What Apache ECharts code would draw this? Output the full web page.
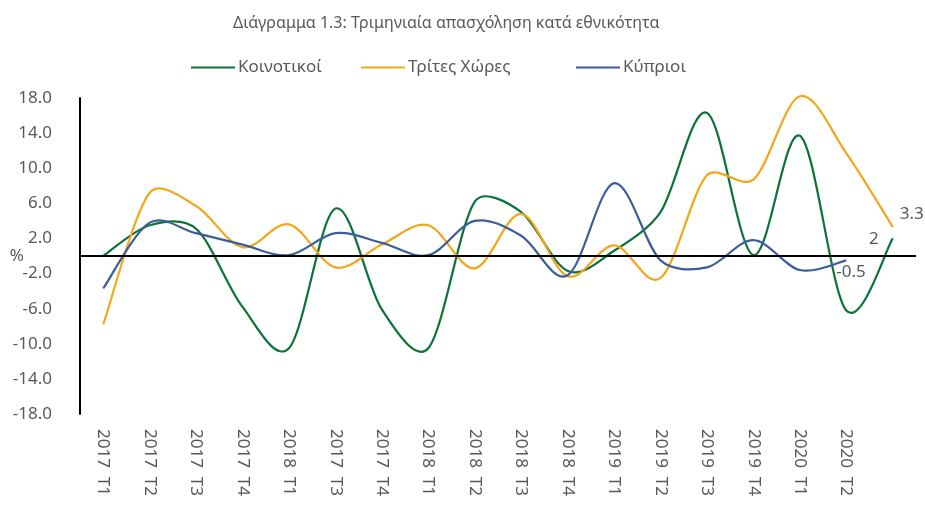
<!DOCTYPE html>
<html>
<head>
<meta charset="utf-8">
<title>Διάγραμμα 1.3</title>
<script src="https://cdn.jsdelivr.net/npm/echarts@6/dist/echarts.min.js"></script>
<style>
  html, body { margin: 0; padding: 0; background: #fff; }
  #chart { width: 925px; height: 508px; }
</style>
</head>
<body>
<div id="chart"></div>
<script>
// Τριμηνιαία απασχόληση κατά εθνικότητα (%)
var quarters = [
  '2017  T1', '2017  T2', '2017  T3', '2017  T4', '2018  T1', '2017  T3',
  '2017  T4', '2018  T1', '2018  T2', '2018  T3', '2018  T4', '2019  T1',
  '2019  T2', '2019  T3', '2019  T4', '2020  T1', '2020  T2', ''
];
var koinotikoi = [0.0, 3.5, 3.1, -5.8, -10.5, 5.4, -6.1, -10.5, 6.2, 5.0, -1.7, 0.6, 5.0, 16.3, 0.1, 13.7, -6.2, 2.0];
var tritesXores = [-7.8, 7.2, 5.7, 1.0, 3.6, -1.3, 1.3, 3.5, -1.4, 4.8, -2.3, 1.2, -2.5, 9.2, 8.7, 18.2, 11.7, 3.3];
var kyprioi = [-3.7, 3.8, 2.6, 1.3, 0.1, 2.6, 1.5, 0.1, 4.0, 2.3, -2.2, 8.3, -0.5, -1.3, 1.8, -1.6, -0.5, null];

var yTicks = { min: -18, max: 18, step: 4 };

var font = 'Noto Sans';
var grey = '#595959';
var colGreen = '#0B7238';
var colOrange = '#F2A71B';
var colBlue = '#3B5E98';

// λεία καμπύλη τύπου Excel: εφαπτομένη από τους γείτονες (Catmull-Rom),
// η λαβή δεν ξεπερνά το 1/3 του διπλανού τμήματος
function smoothPath(pts) {
  var n = pts.length;
  var cin = [], cout = [];
  for (var i = 0; i < n; i++) {
    var p = pts[i];
    var a = pts[Math.max(i - 1, 0)];
    var b = pts[Math.min(i + 1, n - 1)];
    var tx = b[0] - a[0], ty = b[1] - a[1];
    var tl = Math.sqrt(tx * tx + ty * ty) || 1;
    tx /= tl; ty /= tl;
    var lp = Math.min(tl / 6, Math.hypot(p[0] - a[0], p[1] - a[1]) / 3);
    var ln = Math.min(tl / 6, Math.hypot(b[0] - p[0], b[1] - p[1]) / 3);
    cin.push([p[0] - tx * lp, p[1] - ty * lp]);
    cout.push([p[0] + tx * ln, p[1] + ty * ln]);
  }
  var d = 'M' + pts[0][0] + ' ' + pts[0][1];
  for (var j = 0; j < n - 1; j++) {
    d += ' C' + cout[j][0] + ' ' + cout[j][1] + ' ' + cin[j + 1][0] + ' ' + cin[j + 1][1] +
      ' ' + pts[j + 1][0] + ' ' + pts[j + 1][1];
  }
  return d;
}

function curveSeries(name, color, values, label, extra) {
  return Object.assign({
    name: name,
    type: 'custom',
    coordinateSystem: 'cartesian2d',
    itemStyle: { color: color },
    encode: { x: 0, y: 1 },
    data: values.map(function (v, i) { return [i, v]; }),
    renderItem: function (params, api) {
      if (params.dataIndex !== 0) return null;
      var pts = [];
      values.forEach(function (v, i) {
        if (v !== null) pts.push(api.coord([i, v]));
      });
      var end = pts[pts.length - 1];
      var last = values.filter(function (v) { return v !== null; }).pop();
      return {
        type: 'group',
        children: [{
          type: 'path',
          shape: { pathData: smoothPath(pts) },
          style: { fill: null, stroke: color, lineWidth: 2.2 }
        }, {
          type: 'text',
          x: end[0] + label.dx,
          y: end[1] + label.dy,
          style: {
            text: String(last), fill: grey, font: '17px "' + font + '"',
            align: label.align, verticalAlign: 'middle'
          }
        }]
      };
    }
  }, extra || {});
}

function legendAt(name, left) {
  return {
    data: [name], left: left, top: 54,
    icon: 'rect', itemWidth: 44, itemHeight: 2, itemGap: 0,
    textStyle: { color: grey, fontFamily: font, fontSize: 17, padding: [0, 0, 0, -2] },
    selectedMode: false
  };
}

var chart = echarts.init(document.getElementById('chart'), null, { renderer: 'canvas' });
chart.setOption({
  animation: false,
  title: {
    text: 'Διάγραμμα 1.3: Τριμηνιαία απασχόληση κατά εθνικότητα',
    left: 228, top: 10,
    textStyle: { color: grey, fontFamily: font, fontSize: 16, fontWeight: 'normal' }
  },
  legend: [
    legendAt('Κοινοτικοί', 186),
    legendAt('Τρίτες Χώρες', 356),
    legendAt('Κύπριοι', 571)
  ],
  grid: { left: 80, right: 9, top: 98, bottom: 94, outerBoundsMode: 'none' },
  xAxis: {
    type: 'category',
    data: quarters,
    boundaryGap: true,
    axisLine: { show: false, onZero: false },
    axisTick: { show: false },
    axisLabel: {
      interval: 0, rotate: -90, margin: 15,
      color: grey, fontFamily: font, fontSize: 17
    },
    splitLine: { show: false }
  },
  yAxis: {
    type: 'value',
    min: yTicks.min, max: yTicks.max, interval: yTicks.step,
    name: '%', nameLocation: 'middle', nameRotate: 0, nameGap: 56,
    nameMoveOverlap: false,
    nameTextStyle: { color: grey, fontFamily: font, fontSize: 17 },
    axisLine: { show: true, lineStyle: { color: '#000', width: 2 } },
    axisTick: { show: false },
    axisLabel: {
      margin: 28, color: grey, fontFamily: font, fontSize: 17,
      formatter: function (v) { return v.toFixed(1); }
    },
    splitLine: { show: false }
  },
  series: [
    curveSeries('Κοινοτικοί', colGreen, koinotikoi, { dx: -14, dy: 1, align: 'right' }, {
      markLine: {
        silent: true, symbol: 'none',
        label: { show: false },
        lineStyle: { color: '#000', width: 2, type: 'solid' },
        data: [{ yAxis: 0 }]
      }
    }),
    curveSeries('Τρίτες Χώρες', colOrange, tritesXores, { dx: 7, dy: -13, align: 'left' }),
    curveSeries('Κύπριοι', colBlue, kyprioi, { dx: -10, dy: 12, align: 'left' })
  ]
});
window.addEventListener('resize', function () { chart.resize(); });
</script>
</body>
</html>
